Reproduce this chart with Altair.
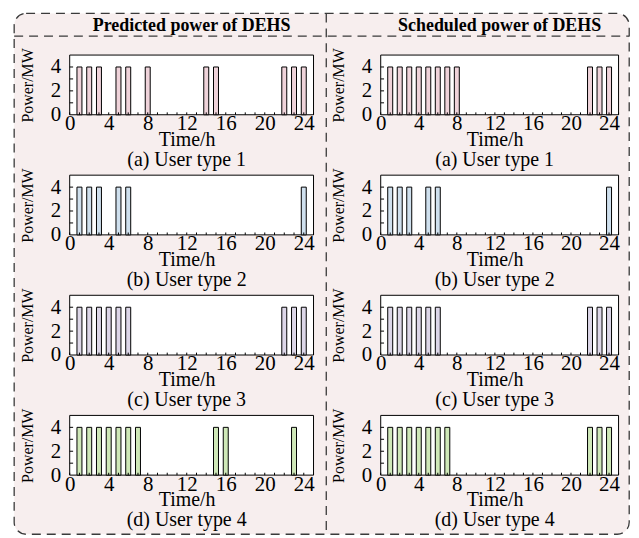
import altair as alt
import pandas as pd

# ---------------- data ----------------
hours = list(range(1, 25))

pred_type1 = [4, 4, 4, 0, 4, 4, 0, 4, 0, 0, 0, 0, 0, 4, 4, 0, 0, 0, 0, 0, 0, 4, 4, 4]
pred_type2 = [4, 4, 4, 0, 4, 4, 0, 0, 0, 0, 0, 0, 0, 0, 0, 0, 0, 0, 0, 0, 0, 0, 0, 4]
pred_type3 = [4, 4, 4, 4, 4, 4, 0, 0, 0, 0, 0, 0, 0, 0, 0, 0, 0, 0, 0, 0, 0, 4, 4, 4]
pred_type4 = [4, 4, 4, 4, 4, 4, 4, 0, 0, 0, 0, 0, 0, 0, 4, 4, 0, 0, 0, 0, 0, 0, 4, 0]

sched_type1 = [4, 4, 4, 4, 4, 4, 4, 4, 0, 0, 0, 0, 0, 0, 0, 0, 0, 0, 0, 0, 0, 4, 4, 4]
sched_type2 = [4, 4, 4, 0, 4, 4, 0, 0, 0, 0, 0, 0, 0, 0, 0, 0, 0, 0, 0, 0, 0, 0, 0, 4]
sched_type3 = [4, 4, 4, 4, 4, 4, 0, 0, 0, 0, 0, 0, 0, 0, 0, 0, 0, 0, 0, 0, 0, 4, 4, 4]
sched_type4 = [4, 4, 4, 4, 4, 4, 4, 0, 0, 0, 0, 0, 0, 0, 0, 0, 0, 0, 0, 0, 0, 4, 4, 4]

captions = ["(a) User type 1", "(b) User type 2", "(c) User type 3", "(d) User type 4"]
headers = ["Predicted power of DEHS", "Scheduled power of DEHS"]
x_tick_labels = [0, 4, 8, 12, 16, 20, 24]
y_tick_labels = [0, 2, 4]
x_minor = list(range(0, 26))
y_minor = [1, 2, 3, 4]

# ---------------- style ----------------
FONT = "Liberation Serif"
PINK = "#f7eeee"
FRAME = "#3a3a3a"
bar_colors = ["#efd3da", "#cfe0ee", "#dcd6e8", "#cfe8b8"]
LEFT_W, RIGHT_W, CELL_H = 255, 249, 60
COL_GAP, ROW_GAP = 57.5, 60.7

one = pd.DataFrame({"k": [0]})


def cell(values, color, caption, width, decor=False):
    df = pd.DataFrame({"hour": hours, "power": values})
    xsc = alt.Scale(domain=[0, 25], nice=False, zero=False)
    ysc = alt.Scale(domain=[0, 5], nice=False)
    xaxis = alt.Axis(values=x_tick_labels, title="Time/h", ticks=False, domain=False,
                     grid=False, labelPadding=-2, labelFontSize=21, labelFlush=False,
                     labelOverlap=False, titleFontSize=20, titleY=14.5,
                     titleBaseline="top", titleX=width / 2 - 5, zindex=1)
    yaxis = alt.Axis(values=y_tick_labels, title="Power/MW", ticks=False, domain=False,
                     grid=False, labelPadding=4, labelFontSize=21, titleFontSize=16,
                     titlePadding=15, zindex=1)
    bg = alt.Chart(one).mark_rect(fill="white", stroke="black", strokeWidth=1).encode(
        x=alt.XDatum(0, type="quantitative", scale=xsc, axis=xaxis),
        x2=alt.X2Datum(25),
        y=alt.YDatum(0, type="quantitative", scale=ysc, axis=yaxis),
        y2=alt.Y2Datum(5),
    )
    bars = alt.Chart(df).transform_filter("datum.power > 0").mark_bar(
        size=5, fill=color, stroke="black", strokeWidth=1
    ).encode(
        x=alt.X("hour:Q", scale=xsc, axis=xaxis),
        y=alt.Y("power:Q", scale=ysc, axis=yaxis),
    )
    xt = alt.Chart(pd.DataFrame({"t": x_minor})).mark_rule(color="black", strokeWidth=1).encode(
        x=alt.X("t:Q", scale=xsc, axis=xaxis),
        y=alt.YDatum(0, type="quantitative", scale=ysc, axis=yaxis),
        y2=alt.Y2Datum(0.2),
    )
    yt = alt.Chart(pd.DataFrame({"t": y_minor})).mark_rule(color="black", strokeWidth=1).encode(
        y=alt.Y("t:Q", scale=ysc, axis=yaxis),
        x=alt.XDatum(0, type="quantitative", scale=xsc, axis=xaxis),
        x2=alt.X2Datum(0.35),
    )
    layers = [bg, bars, xt, yt]
    props = dict(width=width, height=CELL_H)
    if decor:
        dash = dict(stroke=FRAME, strokeWidth=1.3, strokeDash=[9, 6])
        frame = alt.Chart(one).mark_rect(fill=PINK, cornerRadius=12, **dash).encode(
            x=alt.value(-50.8), x2=alt.value(567.2), y=alt.value(-41.8), y2=alt.value(481.5))
        vdiv = alt.Chart(one).mark_rule(**dash).encode(
            x=alt.value(262.8), y=alt.value(-41.8), y2=alt.value(481.5))
        hdiv = alt.Chart(one).mark_rule(**dash).encode(
            x=alt.value(-50.8), x2=alt.value(567.2), y=alt.value(-19))
        htxt = dict(font=FONT, fontSize=18, fontWeight="bold", align="center",
                    baseline="alphabetic", color="black")
        h1 = alt.Chart(one).mark_text(**htxt).encode(
            x=alt.value(LEFT_W / 2), y=alt.value(-24.5), text=alt.value(headers[0]))
        h2 = alt.Chart(one).mark_text(**htxt).encode(
            x=alt.value(LEFT_W + COL_GAP + RIGHT_W / 2), y=alt.value(-24.5),
            text=alt.value(headers[1]))
        cap = alt.Chart(one).mark_text(font=FONT, fontSize=20, align="center",
                                       baseline="middle", color="black").encode(
            x=alt.value(width / 2 - 5), y=alt.value(CELL_H + 45), text=alt.value(caption))
        layers = [frame, vdiv, hdiv, h1, h2] + layers + [cap]
    else:
        props["title"] = alt.TitleParams(caption, orient="bottom", frame="group", offset=1,
                                         baseline="top", anchor="middle", dx=-5, font=FONT,
                                         fontSize=20, fontWeight="normal", color="black",
                                         zindex=1)
    return alt.layer(*layers).properties(**props)


pred = [pred_type1, pred_type2, pred_type3, pred_type4]
sched = [sched_type1, sched_type2, sched_type3, sched_type4]

cells = []
for i in range(4):
    cells.append(cell(pred[i], bar_colors[i], captions[i], LEFT_W, decor=(i == 0)))
    cells.append(cell(sched[i], bar_colors[i], captions[i], RIGHT_W))

chart = alt.concat(
    *cells, columns=2, bounds="flush",
    spacing=alt.RowColnumber(row=ROW_GAP, column=COL_GAP),
).properties(
    padding={"left": 5, "top": 3, "right": 0, "bottom": 0}
).configure(background="white").configure_view(stroke="transparent").configure_axis(
    labelFont=FONT, titleFont=FONT, labelColor="black", titleColor="black",
    titleFontWeight="normal"
)

chart.save("out.html", embed_options={"renderer": "svg", "actions": False})
